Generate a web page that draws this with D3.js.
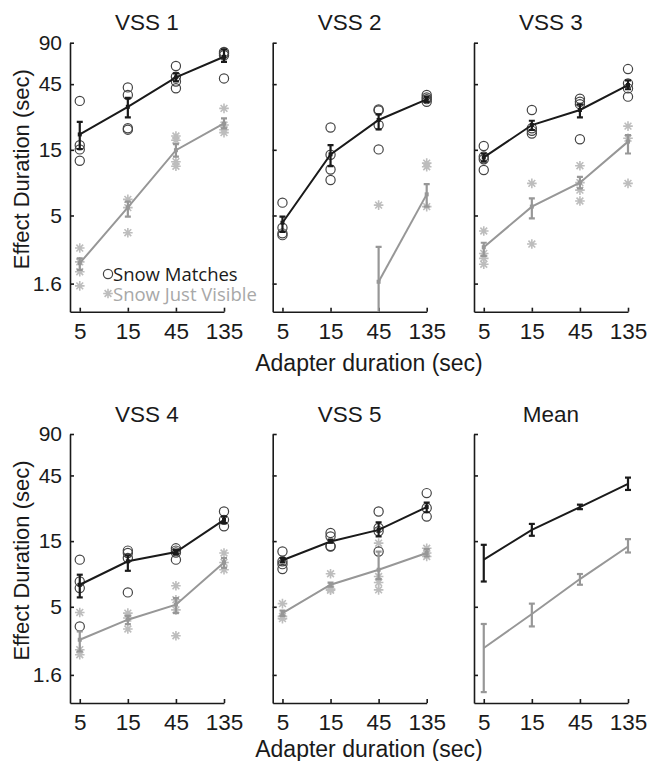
<!DOCTYPE html>
<html>
<head>
<meta charset="utf-8">
<script src="https://cdn.jsdelivr.net/npm/d3@7"></script>
<style>
  body { margin: 0; background: #fff; }
  svg text { font-family: "Liberation Sans", Arial, sans-serif; fill: #1a1a1a; }
</style>
</head>
<body>
<div id="chart"></div>
<script>
// adapter durations (x) and y tick values
const durations = [5, 15, 45, 135];
const yTicks = [1.6, 5, 15, 45, 90];
const panelTitles = ["VSS 1", "VSS 2", "VSS 3", "VSS 4", "VSS 5", "Mean"];

// "Snow Matches" means and error bar ends, one row per panel
const matchMean = [
  [19.4, 30.8, 50.4, 71.1],
  [4.43, 13.9, 24.7, 34.9],
  [13.2, 22.7, 29.2, 44.3],
  [7.23, 10.7, 12.5, 21.4],
  [10.9, 14.9, 18.1, 26.5],
  [11.0, 18.1, 26.5, 39.1]
];
const matchLo = [
  [15.2, 25.8, 47.1, 65.4],
  [3.8, 11.4, 21.1, 33.5],
  [12.3, 20.9, 25.8, 41.3],
  [5.85, 9.13, 12.1, 20.3],
  [10.5, 14.6, 16.2, 24.3],
  [7.63, 16.4, 25.6, 35.3]
];
const matchHi = [
  [23.9, 35.8, 53.9, 80.5],
  [4.9, 16.2, 27.1, 36.5],
  [14.1, 24.4, 32.1, 48],
  [8.55, 11.8, 12.9, 22.6],
  [11.3, 15.4, 20.5, 28.6],
  [14.1, 20.0, 27.6, 43.4]
];
// individual "Snow Matches" runs (circles)
const matchPts = [
  [[34, 16.2, 15.1, 12.5], [42.6, 37.5, 21.5, 21], [61, 51, 47, 42], [77, 75, 73, 49.5]],
  [[6.2, 4.07, 3.71, 3.6], [21.8, 13.8, 10.8, 9.05], [29.5, 29, 22.7, 15.1], [37.5, 36, 35, 33.5]],
  [[16.0, 13.4, 12.8, 10.7], [29.2, 21.5, 20.6, 19.7], [35.3, 33.5, 32.2, 17.9], [57.9, 45.6, 41.9, 36.5]],
  [[11.0, 7.63, 6.84, 3.6], [12.8, 12.3, 11.3, 6.36], [13.3, 12.8, 12.4, 11.0], [24.6, 21.4, 19.2]],
  [[12.6, 10.7, 10.2, 9.4], [17.2, 16.2, 13.8, 13.7], [24.6, 18.7, 17.7, 12.6], [33.5, 26.1, 22.6]],
  [[], [], [], []]
];

// "Snow Just Visible" means and error bar ends
const visMean = [
  [2.25, 5.73, 14.9, 23.3],
  [null, null, 1.65, 7.12],
  [2.94, 5.8, 8.66, 17.2],
  [2.88, 4.03, 5.18, 10.5],
  [4.5, 7.23, 9.29, 12.3],
  [2.51, 4.43, 7.95, 13.7]
];
const visLo = [
  [2.01, 4.9, 13.4, 21.5],
  [null, null, 0.5, 5.8],
  [2.54, 4.76, 7.86, 14.1],
  [2.37, 3.74, 4.5, 9.6],
  [4.3, 7.0, 7.94, 11.6],
  [1.2, 3.6, 7.23, 12.4]
];
const visHi = [
  [2.44, 6.3, 16.5, 25.4],
  [null, null, 2.96, 8.45],
  [3.17, 6.65, 9.55, 19.2],
  [3.31, 4.3, 5.78, 11.3],
  [4.7, 7.5, 12.6, 13.1],
  [3.75, 5.27, 8.65, 15.5]
];
// individual "Snow Just Visible" runs (asterisks)
const visPts = [
  [[2.9, 2.3, 1.95, 1.54], [6.55, 5.7, 3.75], [18.9, 17.6, 12.3, 11.4], [30, 22.7, 21, 20]],
  [[], [], [5.95], [12.0, 11.3, 5.8]],
  [[3.86, 2.65, 2.44, 2.21], [8.56, 3.1], [11.5, 8.66, 7.64, 6.37], [22.3, 18.2, 8.56]],
  [[4.55, 2.44, 2.24], [4.5, 4.14, 3.45], [7.1, 5.63, 4.75, 3.08], [12.3, 10.5, 9.3]],
  [[5.27, 4.26, 4.1], [8.69, 6.72, 6.6], [14.5, 8.3, 7.5, 6.64], [13.3, 12.3, 11.6]],
  [[], [], [], []]
];

const W = 647, H = 761;
const colX = [70, 272.7, 474];
const rowY = [42.7, 434];
const pw = 154, ph = 269;

const BLACK = "#1a1a1a", GREY = "#979797", STAR = "#bdbdbd", CIRCLE = "#444";

const svg = d3.select("#chart").append("svg")
  .attr("width", W).attr("height", H);

const x = d3.scaleLog().base(3).domain([4, 135]).range([0, pw]);
const y = d3.scaleLog().domain([1, 90]).range([ph, 0]);

//asterisk path centred on 0,0
function starPath(r) {
  const d = r * Math.SQRT1_2;
  return `M${-r},0L${r},0M0,${-r}L0,${r}M${-d},${-d}L${d},${d}M${-d},${d}L${d},${-d}`;
}

const line = d3.line()
  .defined(d => d[1] !== null)
  .x(d => x(d[0])).y(d => y(d[1]));

panelTitles.forEach((title, p) => {
  const col = p % 3, row = Math.floor(p / 3);
  const g = svg.append("g").attr("transform", `translate(${colX[col]},${rowY[row]})`);

  g.append("defs").append("clipPath").attr("id", "clip" + p)
    .append("rect").attr("x", -10).attr("y", 0).attr("width", pw + 20).attr("height", ph);

  // title
  g.append("text").attr("x", pw / 2).attr("y", -12.5)
    .attr("text-anchor", "middle").style("font-size", "22.5px").text(title);

  // axes
  const yAxis = d3.axisLeft(y).tickValues(yTicks).tickSizeInner(-4).tickSizeOuter(0).tickPadding(8)
    .tickFormat(col === 0 ? (d => d) : () => "");
  const ya = g.append("g").call(yAxis);
  const xAxis = d3.axisBottom(x).tickValues(durations).tickSizeInner(-4).tickSizeOuter(0).tickPadding(11)
    .tickFormat(d => d);
  const xa = g.append("g").attr("transform", `translate(0,${ph})`).call(xAxis);
  [ya, xa].forEach(a => {
    a.select(".domain").attr("stroke", BLACK).attr("stroke-width", 1.6);
    a.selectAll(".tick line").attr("stroke", BLACK).attr("stroke-width", 1.6);
    a.selectAll(".tick text").attr("fill", BLACK)
      .style("font-family", '"Liberation Sans", Arial, sans-serif');
  });
  ya.selectAll(".tick text").style("font-size", "21px");
  xa.selectAll(".tick text").style("font-size", "22.5px").attr("dy", "0.71em");

  const plot = g.append("g").attr("clip-path", `url(#clip${p})`);

  // individual runs
  durations.forEach((dur, i) => {
    plot.selectAll(null).data(visPts[p][i]).enter().append("path")
      .attr("d", starPath(4.8))
      .attr("transform", v => `translate(${x(dur)},${y(v)})`)
      .attr("stroke", STAR).attr("stroke-width", 1.6).attr("fill", "none");
    plot.selectAll(null).data(matchPts[p][i]).enter().append("circle")
      .attr("cx", x(dur)).attr("cy", v => y(v)).attr("r", 4.6)
      .attr("fill", "none").attr("stroke", CIRCLE).attr("stroke-width", 1.2);
  });

  // mean lines with error bars
  const series = [
    {mean: visMean[p], lo: visLo[p], hi: visHi[p], color: GREY},
    {mean: matchMean[p], lo: matchLo[p], hi: matchHi[p], color: BLACK}
  ];
  series.forEach(s => {
    const pts = durations.map((d, i) => [d, s.mean[i], s.lo[i], s.hi[i]]);
    plot.append("path").datum(pts).attr("d", line)
      .attr("fill", "none").attr("stroke", s.color).attr("stroke-width", 2);
    const eb = plot.selectAll(null).data(pts.filter(d => d[1] !== null)).enter().append("g")
      .attr("transform", d => `translate(${x(d[0])},0)`);
    eb.append("line").attr("y1", d => y(d[2])).attr("y2", d => y(d[3]))
      .attr("stroke", s.color).attr("stroke-width", 2.2);
    eb.append("line").attr("x1", -3).attr("x2", 3).attr("y1", d => y(d[3])).attr("y2", d => y(d[3]))
      .attr("stroke", s.color).attr("stroke-width", 2.2);
    eb.append("line").attr("x1", -3).attr("x2", 3).attr("y1", d => y(d[2])).attr("y2", d => y(d[2]))
      .attr("stroke", s.color).attr("stroke-width", 2.2);
    if (p < 5) {
      eb.append("rect").attr("x", -2).attr("y", d => y(d[1]) - 2).attr("width", 4).attr("height", 4)
        .attr("fill", s.color);
    }
  });

  // y label on left column
  if (col === 0) {
    svg.append("text")
      .attr("transform", `translate(29,${rowY[row] + ph / 2 - 8}) rotate(-90)`)
      .attr("text-anchor", "middle").style("font-size", "22px")
      .text("Effect Duration (sec)");
  }
});

// x labels
svg.append("text").attr("x", 369).attr("y", 371).attr("text-anchor", "middle")
  .style("font-size", "23px").text("Adapter duration (sec)");
svg.append("text").attr("x", 369).attr("y", 757).attr("text-anchor", "middle")
  .style("font-size", "23px").text("Adapter duration (sec)");

// legend (first panel)
const leg = svg.append("g");
leg.append("circle").attr("cx", 108).attr("cy", 274).attr("r", 4.6)
  .attr("fill", "none").attr("stroke", CIRCLE).attr("stroke-width", 1.2);
leg.append("text").attr("x", 113).attr("y", 280.5).style("font-size", "18.5px")
  .style("font-family", '"Open Sans", sans-serif').attr("fill", "#333").text("Snow Matches");
leg.append("path").attr("d", starPath(4.8)).attr("transform", "translate(108,293.5)")
  .attr("stroke", STAR).attr("stroke-width", 1.6).attr("fill", "none");
leg.append("text").attr("x", 113).attr("y", 300.5).style("font-size", "18.5px")
  .style("font-family", '"Open Sans", sans-serif').style("fill", "#a8a8a8").text("Snow Just Visible");
</script>
</body>
</html>
